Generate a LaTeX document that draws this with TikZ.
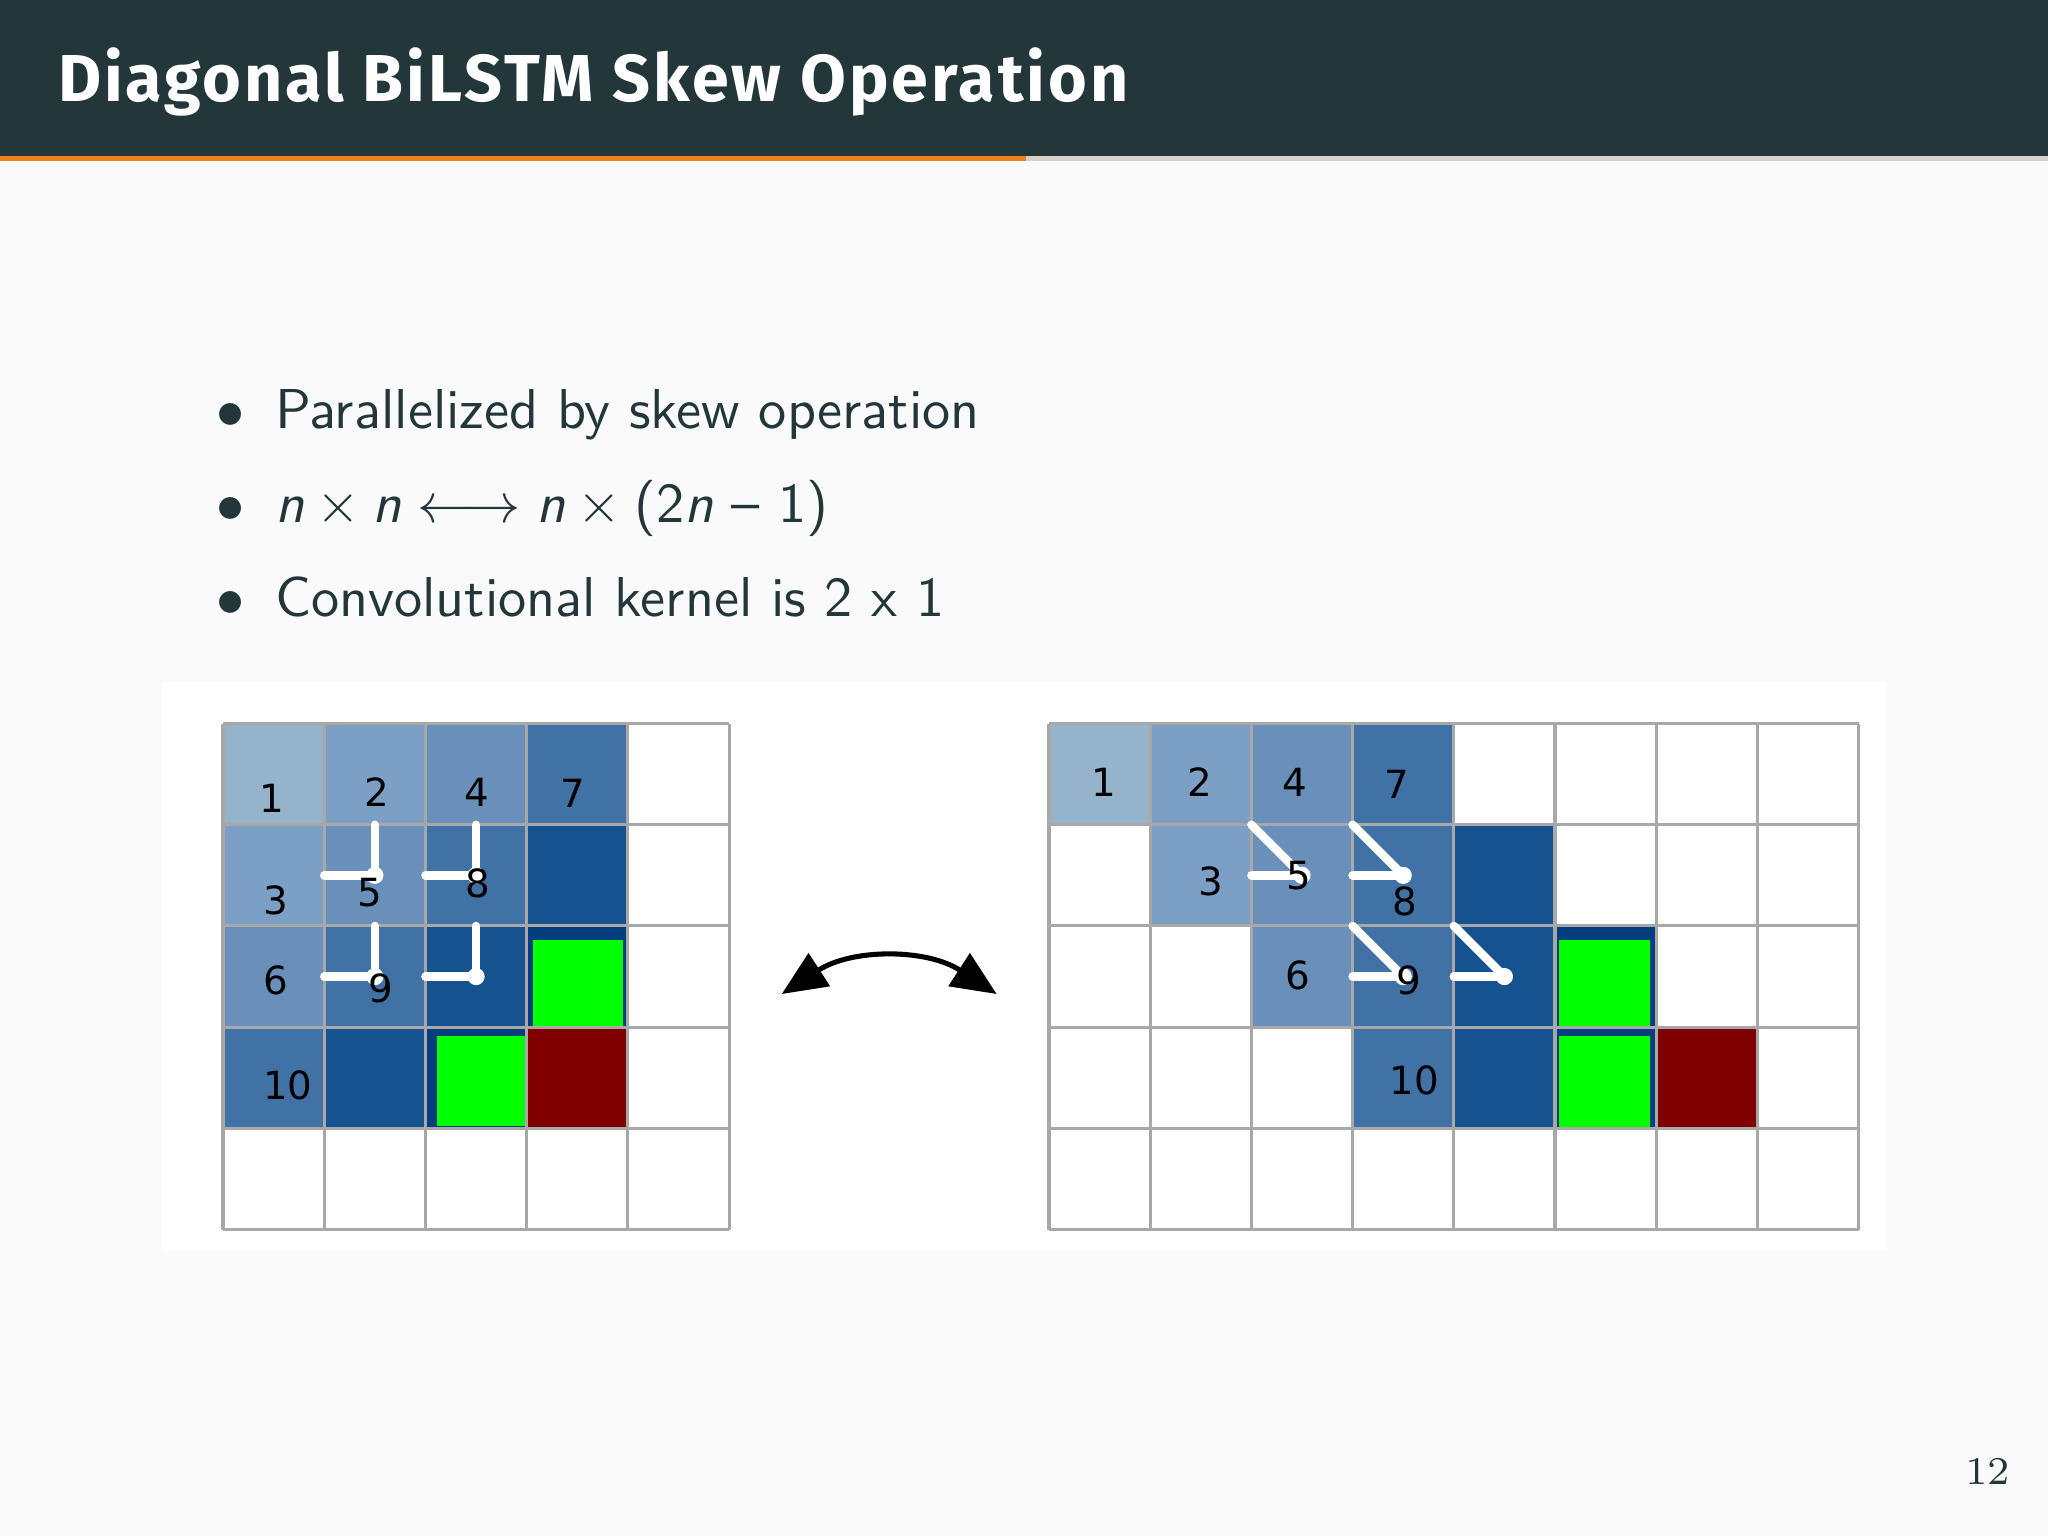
\documentclass[tikz,border=0pt]{standalone}
\usepackage{fontspec}
\newfontfamily\titlefont{Fira Sans}[LetterSpace=4.5]
\newfontfamily\digitfont{DejaVu Sans}
\usetikzlibrary{arrows.meta}

\definecolor{slidebg}{HTML}{FAFAFA}
\definecolor{darkteal}{HTML}{23373B}
\definecolor{barorange}{HTML}{EB811B}
\definecolor{bargrey}{HTML}{D6CFCD}
\definecolor{gridgrey}{HTML}{A8A8A8}
\definecolor{diag0}{HTML}{96B3CC}
\definecolor{diag1}{HTML}{7B9FC5}
\definecolor{diag2}{HTML}{6890BA}
\definecolor{diag3}{HTML}{4172A6}
\definecolor{diag4}{HTML}{165290}
\definecolor{diag5}{HTML}{033F7F}
\definecolor{diag6}{HTML}{800000}
\definecolor{kernelgreen}{HTML}{00FF00}

\begin{document}
\begin{tikzpicture}[
		cell/.style={rectangle,minimum size=0.6325cm,inner sep=0pt,outer sep=0pt},
		gridline/.style={draw=gridgrey,line width=0.55pt},
		kernel/.style={draw=white,line width=1.5pt,line cap=round},
		num/.style={inner sep=0pt,text=black,font=\digitfont\fontsize{6.9}{8}\selectfont},
		item/.style={anchor=base west,inner sep=0pt,text=darkteal,font=\sffamily\fontsize{10}{12}\selectfont},
		dot/.style={anchor=base,inner sep=0pt,text=darkteal,font=\fontsize{10}{12}\selectfont},
		swaparrow/.style={<->,>={Triangle[length=0.28cm,width=0.24cm]},line width=0.9pt,black}]

		% slide background and title bar
		\useasboundingbox (0,0) rectangle (12.8,9.6);
		\fill[slidebg] (0,0) rectangle (12.8,9.6);
		\fill[darkteal] (0,8.627) rectangle (12.8,9.6);
		\fill[barorange] (0,8.594) rectangle (6.41,8.627);
		\fill[bargrey] (6.41,8.594) rectangle (12.8,8.627);
		\node[anchor=base west,inner sep=0pt,text=white,font=\titlefont\bfseries\fontsize{11.8}{14}\selectfont]
			(title) at (0.356,8.964) {Diagonal BiLSTM Skew Operation};

		% bullet list
		\node[dot] (dot1) at (1.444,6.925) {$\bullet$};
		\node[dot] (dot2) at (1.444,6.3375) {$\bullet$};
		\node[dot] (dot3) at (1.444,5.75) {$\bullet$};
		\node[item] (item1) at (1.7125,6.925) {Parallelized by skew operation};
		\node[item] (item2) at (1.7125,6.3375)
			{\textit{n}${}\times{}$\textit{n}${}\longleftrightarrow{}$\textit{n}${}\times{}$(2\textit{n} -- 1)};
		\node[item] (item3) at (1.7125,5.75) {Convolutional kernel is 2 x 1};

		% figure background
		\fill[white] (1.0125,1.78) rectangle (11.794,5.3375);

		% n x n grid
		\begin{scope}[shift={(1.394cm,5.078cm)},x=0.6325cm,y=-0.6325cm]
			\foreach \r in {0,...,4}
			\foreach \c in {0,...,4}{
				\pgfmathtruncatemacro\d{\r+\c}
				\def\cellcol{white}
				\ifnum\r<4 \ifnum\c<4 \edef\cellcol{diag\d}\fi\fi
				\node[cell,fill=\cellcol] (L-\r-\c) at (\c+0.5,\r+0.5) {};
			}
			\fill[kernelgreen] (3.067,2.137) rectangle (3.95,3.0);
			\fill[kernelgreen] (2.11,3.087) rectangle (2.993,3.977);
			\foreach \i in {0,...,5}{
				\draw[gridline] (\i,0) -- (\i,5);
				\draw[gridline] (0,\i) -- (5,\i);
			}

			\path[kernel]
			(L-0-1.south) edge (L-1-1.center)
			(L-1-0.east) edge (L-1-1.center)
			(L-0-2.south) edge (L-1-2.center)
			(L-1-1.east) edge (L-1-2.center)
			(L-1-1.south) edge (L-2-1.center)
			(L-2-0.east) edge (L-2-1.center)
			(L-1-2.south) edge (L-2-2.center)
			(L-2-1.east) edge (L-2-2.center);
			\foreach \t in {L-1-1,L-1-2,L-2-1,L-2-2}
				\fill[white] (\t.center) circle[radius=0.085];

			\node[num] (l1) at (0.48,0.74) {1};
			\node[num] (l2) at (1.52,0.68) {2};
			\node[num] (l4) at (2.51,0.68) {4};
			\node[num] (l7) at (3.46,0.69) {7};
			\node[num] (l3) at (0.52,1.75) {3};
			\node[num] (l5) at (1.45,1.67) {5};
			\node[num] (l8) at (2.52,1.58) {8};
			\node[num] (l6) at (0.52,2.54) {6};
			\node[num] (l9) at (1.56,2.62) {9};
			\node[num] (l10) at (0.64,3.58) {10};
		\end{scope}

		% n x (2n-1) skewed grid
		\begin{scope}[shift={(6.556cm,5.078cm)},x=0.6325cm,y=-0.6325cm]
			\foreach \r in {0,...,4}
			\foreach \c in {0,...,7}{
				\def\cellcol{white}
				\ifnum\r<4 \ifnum\c<\r \else \ifnum\c>\numexpr\r+3\relax \else \edef\cellcol{diag\c}\fi\fi\fi
				\node[cell,fill=\cellcol] (R-\r-\c) at (\c+0.5,\r+0.5) {};
			}
			\fill[kernelgreen] (5.035,2.134) rectangle (5.935,3.01);
			\fill[kernelgreen] (5.035,3.087) rectangle (5.935,3.987);
			\foreach \i in {0,...,8}
				\draw[gridline] (\i,0) -- (\i,5);
			\foreach \i in {0,...,5}
				\draw[gridline] (0,\i) -- (8,\i);

			\path[kernel]
			(R-1-2.north west) edge (R-1-2.center)
			(R-1-1.east) edge (R-1-2.center)
			(R-1-3.north west) edge (R-1-3.center)
			(R-1-2.east) edge (R-1-3.center)
			(R-2-3.north west) edge (R-2-3.center)
			(R-2-2.east) edge (R-2-3.center)
			(R-2-4.north west) edge (R-2-4.center)
			(R-2-3.east) edge (R-2-4.center);
			\foreach \t in {R-1-2,R-1-3,R-2-3,R-2-4}
				\fill[white] (\t.center) circle[radius=0.085];

			\node[num] (r1) at (0.54,0.58) {1};
			\node[num] (r2) at (1.49,0.58) {2};
			\node[num] (r4) at (2.43,0.58) {4};
			\node[num] (r7) at (3.44,0.60) {7};
			\node[num] (r3) at (1.60,1.56) {3};
			\node[num] (r5) at (2.47,1.50) {5};
			\node[num] (r8) at (3.52,1.76) {8};
			\node[num] (r6) at (2.46,2.49) {6};
			\node[num] (r9) at (3.56,2.54) {9};
			\node[num] (r10) at (3.61,3.53) {10};
		\end{scope}

		% skew <-> unskew
		\coordinate (swapL) at (4.886,3.3875);
		\coordinate (swapR) at (6.229,3.3875);
		\draw[swaparrow] (swapL) to[bend left=33] (swapR);

		\node[anchor=base east,inner sep=0pt,text=darkteal,font=\rmfamily\fontsize{7}{9}\selectfont]
			(pagenum) at (12.57,0.319) {12};
\end{tikzpicture}
\end{document}
